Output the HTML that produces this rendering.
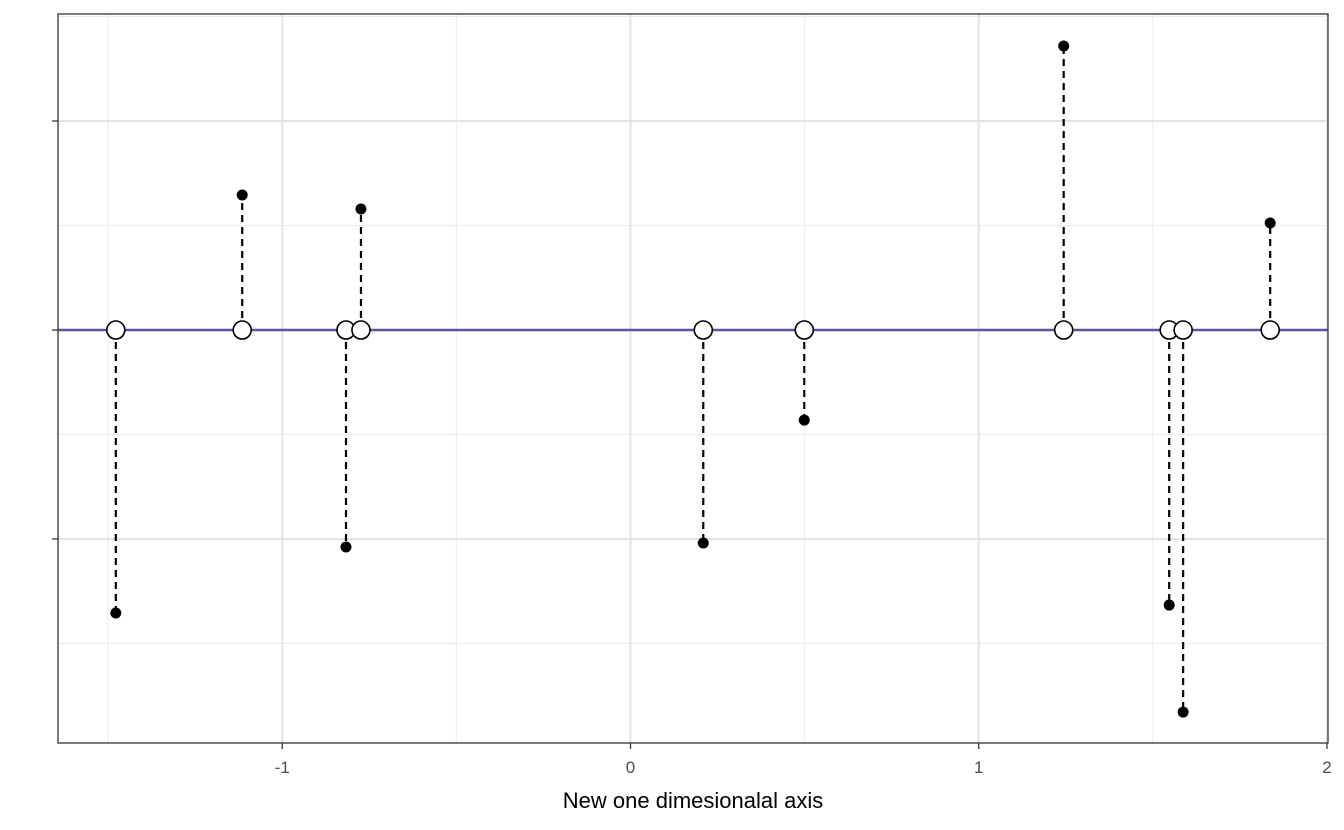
<!DOCTYPE html>
<html><head><meta charset="utf-8"><style>body{margin:0;background:#fff}svg{display:block}</style></head>
<body>
<svg id="chart" width="1344" height="830" xmlns="http://www.w3.org/2000/svg" font-family="Liberation Sans, sans-serif"></svg>
<script>
const xVals = [-1.478, -1.115, -0.817, -0.774, 0.209, 0.499, 1.244, 1.547, 1.587, 1.837];
const yVals = [-1.354, 0.646, -1.038, 0.579, -1.019, -0.431, 1.359, -1.316, -1.828, 0.512];
const xTicks = [-1, 0, 1, 2];
const xMinor = [-1.5, -0.5, 0.5, 1.5];
const yTicks = [-1, 0, 1];
const yMinor = [-1.5, -0.5, 0.5, 1.5];
const xTitle = "New one dimesionalal axis";

const L=58,R=1328,T=14,B=743;
const xr=[-1.644,2.003], yr=[-1.976,1.512];
const sx=v=>L+(v-xr[0])/(xr[1]-xr[0])*(R-L);
const sy=v=>B-(v-yr[0])/(yr[1]-yr[0])*(B-T);
const svg=document.getElementById('chart');
const NS="http://www.w3.org/2000/svg";
function mk(tag,attrs,parent){const e=document.createElementNS(NS,tag);for(const k in attrs)e.setAttribute(k,attrs[k]);(parent||svg).appendChild(e);return e;}

xMinor.forEach(v=>{const e=mk('line',{x1:sx(v),x2:sx(v),y1:T,y2:B,stroke:'#ebebeb','stroke-width':1});

});
yMinor.forEach(v=>{const e=mk('line',{x1:L,x2:R,y1:sy(v),y2:sy(v),stroke:'#ebebeb','stroke-width':1});

});
xTicks.forEach(v=>{const e=mk('line',{x1:sx(v),x2:sx(v),y1:T,y2:B,stroke:'#e3e3e3','stroke-width':2});


const t=mk('line',{x1:sx(v),x2:sx(v),y1:B,y2:B+6,stroke:'#333','stroke-width':1.3});


const l=mk('text',{x:sx(v),y:B+30,'text-anchor':'middle','font-size':17,fill:'#4d4d4d'});l.textContent=v;

});
yTicks.forEach(v=>{const e=mk('line',{x1:L,x2:R,y1:sy(v),y2:sy(v),stroke:'#e3e3e3','stroke-width':2});


const t=mk('line',{x1:L-6,x2:L,y1:sy(v),y2:sy(v),stroke:'#333','stroke-width':1.3});

});

const base=mk('line',{x1:L,x2:R,y1:sy(0),y2:sy(0),stroke:'#5e52a0','stroke-width':2.5});



xVals.forEach((x,i)=>{
 const s=mk('line',{x1:sx(x),x2:sx(x),y1:sy(0),y2:sy(yVals[i]),stroke:'#000','stroke-width':2.2,'stroke-dasharray':'7,5'});
 
 
 const p=mk('circle',{cx:sx(x),cy:sy(yVals[i]),r:5.5,fill:'#000'});
 
 
});
xVals.forEach(x=>{
 const c=mk('circle',{cx:sx(x),cy:sy(0),r:9,fill:'#fff',stroke:'#000','stroke-width':1.6});
 
 
});

const fr=mk('rect',{x:L,y:T,width:R-L,height:B-T,fill:'none',stroke:'#333','stroke-width':1.3});


const xt=mk('text',{x:(L+R)/2,y:808,'text-anchor':'middle','font-size':22,fill:'#000'});xt.textContent=xTitle;


</script>
</body></html>
